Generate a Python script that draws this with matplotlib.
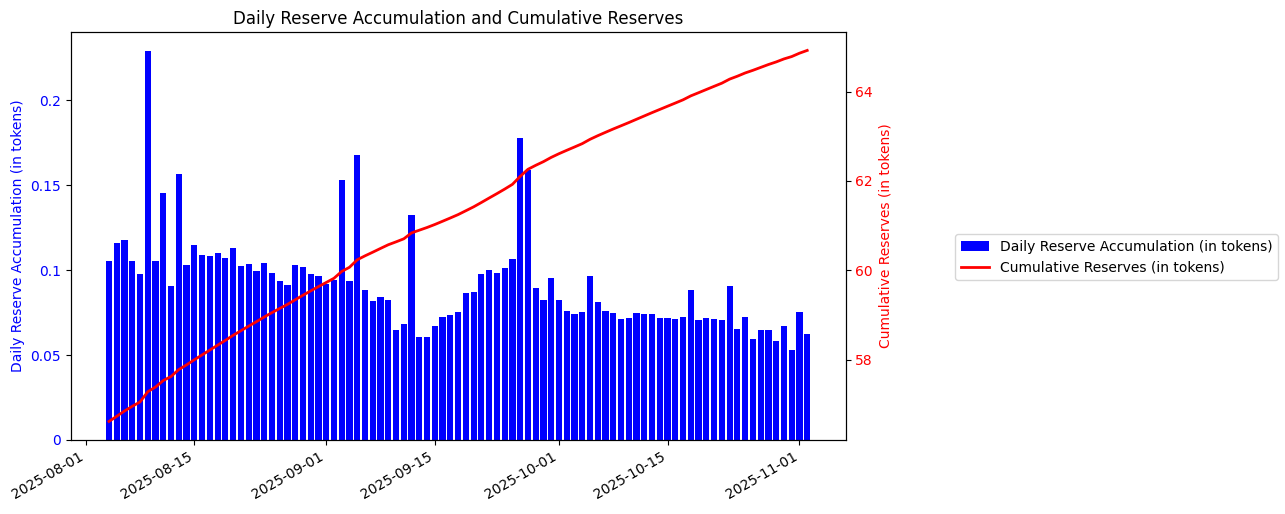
import numpy as np
import pandas as pd
import matplotlib
matplotlib.use('Agg')
import matplotlib.pyplot as plt
from matplotlib.ticker import FuncFormatter

# daily reserve accumulation, one value per day starting 2025-08-04
start_date = '2025-08-04'
daily = [0.1053, 0.1159, 0.1176, 0.1053, 0.0976, 0.2288, 0.1053, 0.1453, 0.0906, 0.1565,
         0.1029, 0.1147, 0.1088, 0.1082, 0.1100, 0.1071, 0.1129, 0.1024, 0.1035, 0.0994,
         0.1041, 0.0982, 0.0935, 0.0912, 0.1029, 0.1018, 0.0976, 0.0965, 0.0918, 0.0941,
         0.1529, 0.0935, 0.1676, 0.0882, 0.0818, 0.0841, 0.0824, 0.0647, 0.0682, 0.1324,
         0.0606, 0.0606, 0.0671, 0.0724, 0.0735, 0.0753, 0.0865, 0.0871, 0.0976, 0.1000,
         0.0982, 0.1012, 0.1065, 0.1776, 0.1588, 0.0894, 0.0824, 0.0953, 0.0824, 0.0759,
         0.0741, 0.0753, 0.0965, 0.0812, 0.0759, 0.0747, 0.0712, 0.0718, 0.0747, 0.0741,
         0.0741, 0.0718, 0.0718, 0.0712, 0.0724, 0.0882, 0.0706, 0.0718, 0.0712, 0.0706,
         0.0906, 0.0653, 0.0724, 0.0594, 0.0647, 0.0647, 0.0582, 0.0671, 0.0529, 0.0753,
         0.0624]
# reserves held before the first day shown
initial_reserve = 56.51

dates = pd.date_range(start_date, periods=len(daily), freq='D')
cumulative = initial_reserve + np.cumsum(daily)

fig, ax1 = plt.subplots(figsize=(12.85, 5.14), dpi=100)

ax1.bar(dates, daily, color='blue', width=0.8, label='Daily Reserve Accumulation (in tokens)')
ax1.set_ylabel('Daily Reserve Accumulation (in tokens)', color='blue')
ax1.tick_params(axis='y', labelcolor='blue')
ax1.yaxis.set_major_formatter(FuncFormatter(lambda v, p: '%g' % round(v, 4)))

ax2 = ax1.twinx()
ax2.plot(dates, cumulative, color='red', linewidth=2, label='Cumulative Reserves (in tokens)')
ax2.set_ylabel('Cumulative Reserves (in tokens)', color='red')
ax2.tick_params(axis='y', labelcolor='red')

ax1.set_title('Daily Reserve Accumulation and Cumulative Reserves')
fig.autofmt_xdate()
fig.subplots_adjust(left=0.055, right=0.658, top=0.938, bottom=0.144)

h1, l1 = ax1.get_legend_handles_labels()
h2, l2 = ax2.get_legend_handles_labels()
fig.legend(h1 + h2, l1 + l2, loc='center right', bbox_to_anchor=(1, 0.5))

fig.savefig('out.png', dpi=100)
